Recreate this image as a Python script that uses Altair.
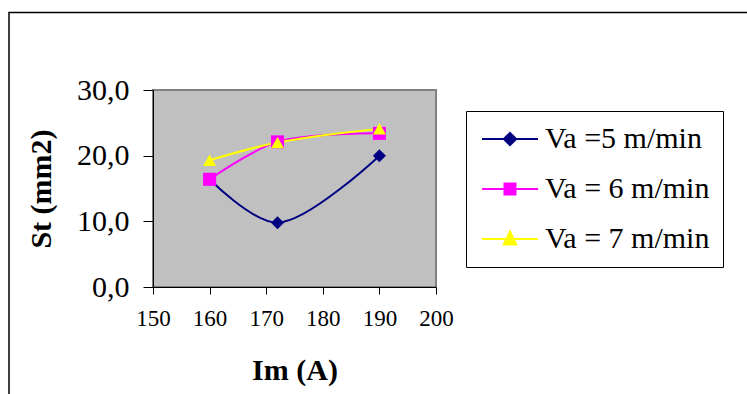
import altair as alt
import pandas as pd

# ---- data ----
im_values = [160, 172, 190]
series_names = ["Va =5 m/min", "Va = 6 m/min", "Va = 7 m/min"]
st_va5 = [16.4, 9.8, 20.0]
st_va6 = [16.4, 22.1, 23.4]
st_va7 = [19.3, 22.0, 24.1]
x_ticks = [150, 160, 170, 180, 190, 200]
y_ticks = [0, 10, 20, 30]

series_values = [st_va5, st_va6, st_va7]
rows = []
for name, vals in zip(series_names, series_values):
    for x, y in zip(im_values, vals):
        rows.append({"Im": x, "St": y, "series": name, "s2": name})
df = pd.DataFrame(rows)

colors = ["#000080", "#FF00FF", "#FFFF00"]
plot_shapes = ["diamond", "square", "triangle-up"]
legend_paths = [
    "M-2.8,0H2.8M0,-0.6L0.62,0L0,0.6L-0.62,0Z",
    "M-2.8,0H2.8M-0.55,-0.55H0.55V0.55H-0.55Z",
    "M-2.8,0H2.8M0,-0.75L0.62,0.55L-0.62,0.55Z",
]
shape_expr = " : ".join(
    f"datum.value === '{n}' ? '{p}'" for n, p in zip(series_names[:-1], legend_paths[:-1])
) + f" : '{legend_paths[-1]}'"

FONT = "Liberation Serif"

base = alt.Chart(df)

frame = alt.Chart(alt.Data(values=[{}])).mark_rect(
    fill="white", fillOpacity=0, stroke="#000000", strokeWidth=1.5
).encode(
    x=alt.value(-144), x2=alt.value(640), y=alt.value(-77.5), y2=alt.value(340)
)

x_enc = alt.X(
    "Im:Q",
    scale=alt.Scale(domain=[150, 200], nice=False, zero=False),
    axis=alt.Axis(
        values=x_ticks, title="Im (A)", grid=False, labelFont=FONT, labelFontSize=23,
        labelColor="black", tickColor="black", domainColor="black", tickSize=7,
        labelPadding=13, labelFlush=False, labelOverlap=False,
        titleFont=FONT, titleFontSize=30, titleFontWeight="bold",
        titleColor="black", titlePadding=25, domainWidth=1, tickWidth=1,
    ),
)
y_enc = alt.Y(
    "St:Q",
    scale=alt.Scale(domain=[0, 30], nice=False),
    axis=alt.Axis(
        values=y_ticks, title="St (mm2)", grid=False, labelFont=FONT, labelFontSize=30,
        labelColor="black", tickColor="black", domainColor="black", tickSize=10,
        labelPadding=14, labelFlush=False, labelOverlap=False,
        labelExpr="replace(format(datum.value, '.1f'), '.', ',')",
        titleFont=FONT, titleFontSize=30, titleFontWeight="bold", titleColor="black",
        titlePadding=20, domainWidth=1, tickWidth=1,
    ),
)

lines = base.mark_line(interpolate="catmull-rom", strokeWidth=2).encode(
    x=x_enc,
    y=y_enc,
    color=alt.Color(
        "series:N",
        scale=alt.Scale(domain=series_names, range=colors),
        legend=alt.Legend(
            title=None, orient="none", legendX=313, legendY=21,
            strokeColor="black", fillColor="white", padding=13, cornerRadius=0,
            labelFont=FONT, labelFontSize=30, labelColor="black", labelLimit=400,
            symbolSize=400, symbolStrokeWidth=2,
            symbolType={"expr": shape_expr},
            symbolFillColor={"expr": "scale('color', datum.value)"},
            symbolOffset=16, labelOffset=20, rowPadding=20,
        ),
    ),
    detail="series:N",
)

points = base.mark_point(filled=True, size=170, opacity=1, strokeWidth=0).encode(
    x="Im:Q",
    y="St:Q",
    fill=alt.Fill("s2:N", sort=series_names, scale=alt.Scale(range=colors), legend=None),
    shape=alt.Shape("s2:N", sort=series_names, scale=alt.Scale(range=plot_shapes), legend=None),
)

chart = alt.layer(frame, lines, points).properties(
    width=283, height=197,
    autosize=alt.AutoSizeParams(type="none"),
    padding={"left": 153, "top": 90, "right": 311, "bottom": 107},
    background="white",
).configure_view(
    fill="#C0C0C0", stroke="#808080", strokeWidth=2
)

chart.save("out.html", embed_options={"renderer": "svg", "actions": False})
